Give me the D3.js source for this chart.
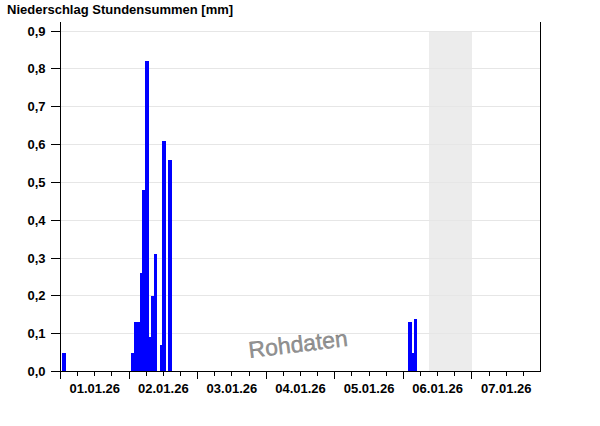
<!DOCTYPE html>
<html><head><meta charset="utf-8">
<script src="https://cdn.jsdelivr.net/npm/d3@7"></script>
<style>html,body{margin:0;padding:0;background:#fff;} svg{display:block;font-family:"Liberation Sans",Arial,sans-serif;}</style>
</head><body><svg id="c" width="600" height="426"></svg>
<script>
// ---- data ----
const title = "Niederschlag Stundensummen [mm]";
const dayStarts = ["2026-01-01T00:00","2026-01-02T00:00","2026-01-03T00:00","2026-01-04T00:00","2026-01-05T00:00","2026-01-06T00:00","2026-01-07T00:00","2026-01-08T00:00"];
const dayLabels = ["01.01.26","02.01.26","03.01.26","04.01.26","05.01.26","06.01.26","07.01.26"];
const yTickValues = [0,0.1,0.2,0.3,0.4,0.5,0.6,0.7,0.8,0.9];
const yTickLabels = ["0,0","0,1","0,2","0,3","0,4","0,5","0,6","0,7","0,8","0,9"];
const barTimes = ["2026-01-01T01:00",
  "2026-01-02T01:00","2026-01-02T02:00","2026-01-02T03:00","2026-01-02T04:00","2026-01-02T05:00",
  "2026-01-02T06:00","2026-01-02T07:00","2026-01-02T08:00","2026-01-02T09:00","2026-01-02T11:00",
  "2026-01-02T12:00","2026-01-02T14:00",
  "2026-01-06T02:00","2026-01-06T03:00","2026-01-06T04:00"];
const barValues = [0.05,
  0.05,0.13,0.13,0.26,0.48,
  0.82,0.09,0.20,0.31,0.07,
  0.61,0.56,
  0.13,0.05,0.14];
const grayBand = ["2026-01-06T09:00","2026-01-07T00:00"];
const watermark = "Rohdaten";

// ---- chart ----
const parse = d3.timeParse("%Y-%m-%dT%H:%M");
const svg = d3.select("#c");
const x = d3.scaleTime().domain([parse(dayStarts[0]), parse(dayStarts[7])]).range([60.5, 540.5]);
const y = d3.scaleLinear().domain([0, 0.924]).range([371.5, 22]);
const px = v => Math.floor(v) + 0.5;

// gray band
svg.append("rect")
  .attr("x", x(parse(grayBand[0]))).attr("y", y(0.9))
  .attr("width", x(parse(grayBand[1])) - x(parse(grayBand[0])))
  .attr("height", y(0) - y(0.9))
  .attr("fill", "#ececec").attr("shape-rendering","crispEdges");

// gridlines
svg.append("g").selectAll("line").data(yTickValues.slice(1)).join("line")
  .attr("x1", 61).attr("x2", 540)
  .attr("y1", d => px(y(d))).attr("y2", d => px(y(d)))
  .attr("stroke", "#e6e6e6").attr("stroke-width", 1).attr("shape-rendering","crispEdges");

// bars (taller bars drawn last so they cover shorter neighbours)
const hourMs = 3600 * 1000;
const bars = barTimes.map((t, i) => ({t: parse(t), v: barValues[i]}))
  .sort((a, b) => a.v - b.v);
svg.append("g").selectAll("rect").data(bars).join("rect")
  .attr("x", d => x(d.t) - 1)
  .attr("width", d => x(new Date(+d.t + hourMs)) - x(d.t) + 0.8)
  .attr("y", d => y(d.v))
  .attr("height", d => y(0) - y(d.v))
  .attr("fill", "#0000ff").attr("shape-rendering","crispEdges");

// watermark
svg.append("text")
  .attr("transform", "translate(299,352) rotate(-7)")
  .attr("text-anchor", "middle")
  .attr("font-size", 23).attr("fill", "#949494")
  .attr("stroke", "#6e6e6e").attr("stroke-width", 0.35)
  .text(watermark);

// left axis
const yAxis = d3.axisLeft(y).tickValues(yTickValues).tickFormat((d, i) => yTickLabels[i]).tickSize(10).tickPadding(5);
const gy = svg.append("g");
gy.call(yAxis);
gy.select(".domain").remove();
gy.selectAll(".tick").attr("transform", d => `translate(60.5,${px(y(d))})`);
gy.selectAll(".tick line").attr("stroke", "#000").attr("shape-rendering","crispEdges");
gy.selectAll(".tick text").attr("font-family", "Liberation Sans, Arial, sans-serif")
  .attr("font-size", 13).attr("font-weight", "bold").attr("fill", "#000").attr("dy", "0.35em");
svg.append("line").attr("x1", 60.5).attr("x2", 60.5).attr("y1", 22).attr("y2", 372)
  .attr("stroke", "#000").attr("shape-rendering","crispEdges");
svg.append("line").attr("x1", 540.5).attr("x2", 540.5).attr("y1", 22).attr("y2", 372)
  .attr("stroke", "#000").attr("shape-rendering","crispEdges");

// bottom axis
const axisY = 371.5;
svg.append("line").attr("x1", 60).attr("x2", 541).attr("y1", axisY).attr("y2", axisY)
  .attr("stroke", "#000").attr("shape-rendering","crispEdges");
const majorTicks = dayStarts.slice(0, 7).map(parse);
const minorTicks = [];
dayLabels.forEach((_, i) => [6, 12, 18].forEach(h => minorTicks.push(new Date(+parse(dayStarts[i]) + h * hourMs))));
svg.append("g").selectAll("line").data(majorTicks).join("line")
  .attr("x1", d => px(x(d))).attr("x2", d => px(x(d)))
  .attr("y1", axisY).attr("y2", axisY + 7)
  .attr("stroke", "#000").attr("shape-rendering","crispEdges");
svg.append("g").selectAll("line").data(minorTicks).join("line")
  .attr("x1", d => px(x(d))).attr("x2", d => px(x(d)))
  .attr("y1", axisY).attr("y2", axisY + 4)
  .attr("stroke", "#000").attr("shape-rendering","crispEdges");
svg.append("g").selectAll("text").data(dayLabels).join("text")
  .attr("x", (d, i) => x(new Date(+parse(dayStarts[i]) + 12 * hourMs)))
  .attr("y", 393)
  .attr("text-anchor", "middle")
  .attr("font-size", 13).attr("font-weight", "bold").attr("fill", "#000")
  .text(d => d);

// title
svg.append("text").attr("x", 7).attr("y", 14)
  .attr("font-size", 13).attr("font-weight", "bold").attr("fill", "#000")
  .text(title);
</script></body></html>
